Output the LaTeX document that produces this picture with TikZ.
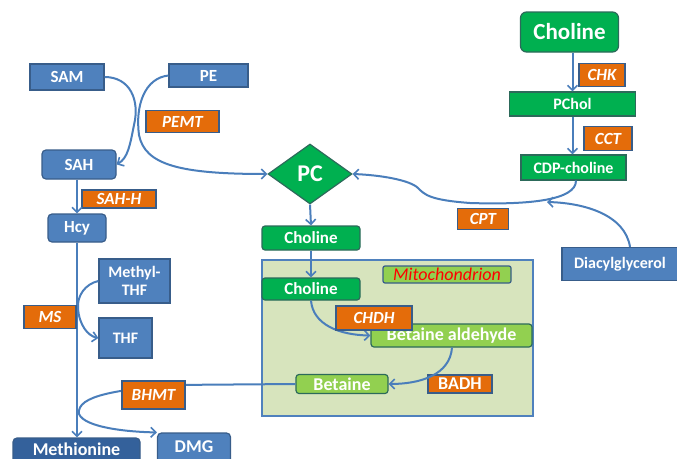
\documentclass[tikz,border=0pt]{standalone}
\usepackage{fontspec}
\setmainfont{Carlito}
\usetikzlibrary{arrows.meta,shapes.geometric,calc}
\definecolor{bl}{HTML}{4F81BD}
\definecolor{bld}{HTML}{385D8A}
\definecolor{mb}{HTML}{34619B}
\definecolor{gr}{HTML}{00B050}
\definecolor{grd}{HTML}{2C6A5A}
\definecolor{lg}{HTML}{92D050}
\definecolor{og}{HTML}{E46C0A}
\definecolor{mit}{HTML}{D7E4BD}
\definecolor{ln}{HTML}{4A7EBB}
\newcommand{\fs}[1]{\fontsize{#1}{#1}\selectfont}
\begin{document}
\begin{tikzpicture}[x=1pt,y=-1pt,
  box/.style={draw=bld,line width=1.2pt,text=white,inner sep=0pt,font=\fs{17}\bfseries,align=center},
  bbox/.style={box,fill=bl},
  rbox/.style={bbox,rounded corners=4pt},
  gbox/.style={box,fill=gr,draw=grd},
  rgbox/.style={gbox,rounded corners=3pt},
  lbox/.style={box,fill=lg,draw=grd,rounded corners=3pt,font=\fs{18}\bfseries},
  enz/.style={box,fill=og,font=\fs{17}\bfseries\itshape},
  conn/.style={draw=ln,line width=2pt,-{Straight Barb[length=5pt,width=10pt,line width=1.6pt]}}]
\useasboundingbox (0,0) rectangle (677,458);
\fill[white] (0,0) rectangle (677,458);
% mitochondrion compartment
\node[draw=bl,line width=1.2pt,fill=mit,minimum width=271pt,minimum height=156pt,inner sep=0pt] (mito) at (397.5,338) {};
\node[draw=bld,line width=1.2pt,fill=lg,rounded corners=2pt,minimum width=128pt,minimum height=17pt,inner sep=0pt,text=red,font=\fs{18}\itshape] (mitol) at (447,274.5) {Mitochondrion};
% nodes
\node[bbox,minimum width=74pt,minimum height=26pt] (sam) at (67,77) {SAM};
\node[bbox,minimum width=79pt,minimum height=23pt] (pe) at (208.5,75.5) {PE};
\node[enz,minimum width=73pt,minimum height=22pt] (pemt) at (182.5,121.5) {PEMT};
\node[rbox,minimum width=74pt,minimum height=29pt] (sah) at (79,164.5) {SAH};
\node[enz,minimum width=74pt,minimum height=18pt] (sahh) at (119,199) {SAH-H};
\node[rbox,minimum width=58pt,minimum height=28pt] (hcy) at (77,228) {Hcy};
\node[bbox,minimum width=71pt,minimum height=44pt,font=\fs{16}\bfseries] (mthf) at (134.5,281) {Methyl-\\[2pt]THF};
\node[bbox,minimum width=53pt,minimum height=40pt,font=\fs{16}\bfseries] (thf) at (125.5,338) {THF};
\node[rbox,fill=mb,draw=bld,minimum width=127pt,minimum height=40pt] (met) at (76.5,458) {};
\node[text=white,font=\fs{18}\bfseries] (mett) at (76.5,449.5) {Methionine};
\node[rbox,minimum width=73pt,minimum height=40pt] (dmg) at (194,453) {};
\node[text=white,font=\fs{18}\bfseries] (dmgt) at (194,447) {DMG};
\node[diamond,fill=gr,draw=grd,line width=1.2pt,minimum width=84pt,minimum height=60pt,inner sep=0pt,text=white,font=\fs{24}\bfseries] (pc) at (310,174) {PC};
\node[rgbox,minimum width=98pt,minimum height=24pt] (ch2) at (311,238) {Choline};
\node[rgbox,minimum width=98pt,minimum height=22pt] (ch3) at (311,289) {Choline};
\node[lbox,minimum width=161pt,minimum height=23pt] (ba) at (451.5,335.5) {Betaine aldehyde};
\node[lbox,minimum width=92pt,minimum height=19pt] (bet) at (342,384) {Betaine};
\node[enz,minimum width=64pt,minimum height=18pt,font=\fs{18}\bfseries] (badh) at (460,384) {BADH};
\node[rgbox,rounded corners=6pt,minimum width=98pt,minimum height=40pt,font=\fs{23}\bfseries] (ch1) at (569.5,32) {Choline};
\node[enz,minimum width=46pt,minimum height=23pt] (chk) at (602,75) {CHK};
\node[gbox,minimum width=126pt,minimum height=24pt,font=\fs{16}\bfseries] (pchol) at (572.5,104) {PChol};
\node[enz,minimum width=48pt,minimum height=24pt] (cct) at (608,138.5) {CCT};
\node[gbox,minimum width=105pt,minimum height=25pt,font=\fs{16}\bfseries] (cdp) at (573.5,167.5) {CDP-choline};
\node[enz,minimum width=51pt,minimum height=21pt] (cpt) at (483,219) {CPT};
\node[bbox,minimum width=116pt,minimum height=33pt,font=\fs{16}\bfseries] (dag) at (620,264) {Diacylglycerol};
% connectors
\path[conn] (sam.east) .. controls (130,77) and (140,100) .. (134,125) .. controls (130,145) and (128,158) .. (sah.east);
\path[conn] (pe.west) .. controls (145,78) and (135,105) .. (139,135) .. controls (145,165) and (180,174) .. (pc.west);
\path[conn] (hcy.north |- sah.south) -- (hcy.north);
\path[conn] (hcy.south) -- (hcy.south |- met.north);
\path[conn] (mthf.west) .. controls (85,284) and (77,296) .. (78,308) .. controls (79,325) and (88,336) .. (thf.west);
\path[conn] (pc.south) -- (ch2.north);
\path[conn] (ch2.south) -- (ch3.north);
\path[conn] (ch3.south) .. controls (313,325) and (340,335) .. (ba.west);
\path[conn] ($(ba.south)+(0.5,0)$) .. controls (450,375) and (420,384) .. (bet.east);
\path[conn] (pchol.north |- ch1.south) -- (pchol.north);
\path[conn] (pchol.south) -- (pchol.south |- cdp.north);
\path[conn] ($(cdp.south)+(2.5,0)$) .. controls (576,200) and (530,205) .. (470,203) .. controls (430,200) and (425,195) .. (418,188) .. controls (410,180) and (380,175) .. (pc.east);
\path[conn] ($(dag.north)+(10,0)$) .. controls (625,215) and (585,203) .. (547,202);
\path[conn] (bet.west) -- (170,385) .. controls (120,390) and (76,395) .. (79,414) .. controls (85,428) and (130,432) .. (dmg.north west);
% enzyme boxes drawn over connectors
\node[enz,minimum width=63pt,minimum height=28pt] (bhmt) at (153.5,395) {BHMT};
\node[enz,minimum width=52pt,minimum height=23pt] (ms) at (50,317) {MS};
\node[enz,minimum width=76pt,minimum height=24pt] (chdh) at (374,318) {CHDH};
\end{tikzpicture}
\end{document}
